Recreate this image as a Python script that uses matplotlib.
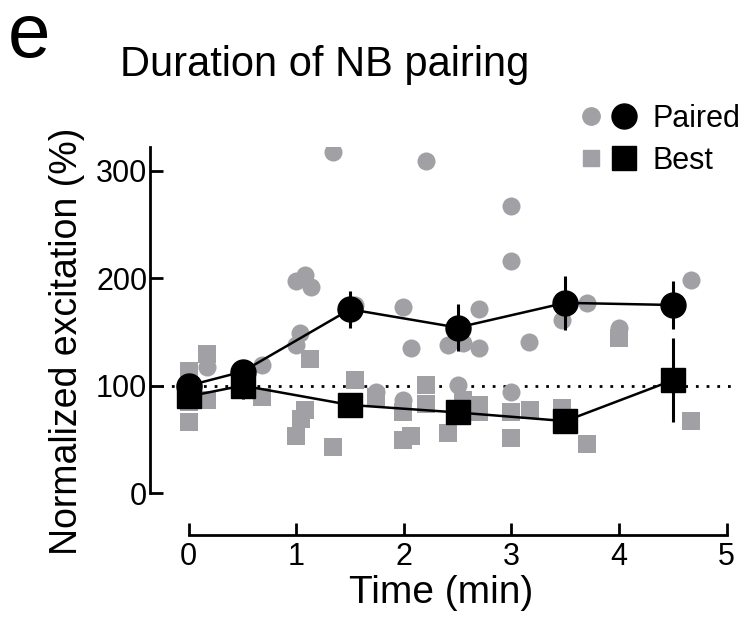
import matplotlib
matplotlib.use("Agg")
import matplotlib.pyplot as plt
from matplotlib.lines import Line2D
from matplotlib.legend_handler import HandlerTuple

plt.rcParams['font.family'] = ['Liberation Sans', 'DejaVu Sans']

# Individual neurons (gray)
paired_t = [0.0, 0.17, 0.68, 1.0, 1.08, 1.14, 1.03, 1.0, 1.34, 1.55, 1.74, 1.99, 1.99,
            2.07, 2.21, 2.41, 2.55, 2.5, 2.7, 2.7, 3.0, 3.0, 3.0, 3.16, 3.47, 3.70,
            4.0, 4.67]
paired_v = [100, 117, 119, 197, 203, 192, 149, 138, 317, 175, 94, 173, 87,
            135, 309, 138, 140, 101, 171, 135, 267, 216, 94, 141, 161, 177,
            154, 198]

best_t = [0.0, 0.0, 0.0, 0.0, 0.17, 0.17, 0.68, 1.13, 1.55, 1.08, 1.04, 1.0, 1.34,
          1.74, 1.99, 1.99, 2.07, 2.21, 2.21, 2.41, 2.55, 2.7, 2.7, 3.0, 3.0, 3.17,
          3.47, 3.70, 4.0, 4.67]
best_v = [114, 100, 85, 66, 129, 87, 89, 125, 105, 77, 69, 53, 43,
          89, 75, 49, 53, 101, 83, 56, 87, 82, 75, 75, 51, 77,
          79, 46, 144, 67]

# Group means (black)
mean_t = [0, 0.5, 1.5, 2.5, 3.5, 4.5]
paired_mean = [100, 113, 171, 154, 177, 175]
paired_err = [6, 5, 17, 22, 25, 22]
best_mean = [90, 100, 82, 75, 67, 105]
best_err = [8, 12, 8, 8, 8, 39]

gray = '#a1a1a5'

fig = plt.figure(figsize=(7.46, 6.22), dpi=100)
ax = fig.add_axes([150/746, 87/622, 582/746, 388/622])

ax.axhline(100, color='black', lw=2.0, linestyle=(0, (1, 2.85)), zorder=1)

ax.scatter(paired_t, paired_v, s=13**2, marker='o', color=gray, linewidths=0, zorder=2)
ax.scatter(best_t, best_v, s=12.5**2, marker='s', color=gray, linewidths=0, zorder=2)

ax.errorbar(mean_t, paired_mean, yerr=paired_err, fmt='-o', color='black',
            ms=18, lw=1.8, elinewidth=2.2, capsize=0, zorder=4)
ax.errorbar(mean_t, best_mean, yerr=best_err, fmt='-s', color='black',
            ms=17, lw=1.8, elinewidth=2.2, capsize=0, zorder=4)

ax.set_xlim(-0.36, 5.05)
ax.set_ylim(-39, 322)
ax.spines['top'].set_visible(False)
ax.spines['right'].set_visible(False)
ax.spines['left'].set_bounds(0, 322)
ax.spines['bottom'].set_bounds(0, 5)
for s in ['left', 'bottom']:
    ax.spines[s].set_linewidth(2.0)
ax.set_xticks([0, 1, 2, 3, 4, 5])
ax.set_yticks([0, 100, 200, 300])
ax.tick_params(direction='in', length=9, width=2.0, labelsize=22, pad=5)
ax.tick_params(axis='y', pad=2)

ax.set_xlabel('Time (min)', fontsize=28, labelpad=2)
ax.set_ylabel('Normalized excitation (%)', fontsize=27, labelpad=8)

fig.text(8/746, 1 - 57/622, 'e', fontsize=55)
fig.text(120/746, 1 - 76/622, 'Duration of NB pairing', fontsize=30)

h1 = (Line2D([], [], marker='o', ls='', color=gray, ms=12.5),
      Line2D([], [], marker='o', ls='', color='black', ms=18))
h2 = (Line2D([], [], marker='s', ls='', color=gray, ms=11.5),
      Line2D([], [], marker='s', ls='', color='black', ms=17))
fig.legend([h1, h2], ['Paired', 'Best'], handler_map={tuple: HandlerTuple(ndivide=None, pad=0)},
           loc='upper left', bbox_to_anchor=(574/746, 1 - 104/622), frameon=False,
           fontsize=22, handlelength=2.2, handletextpad=0.36, labelspacing=0.38,
           borderpad=0, borderaxespad=0)

fig.savefig('out.png', dpi=100)
